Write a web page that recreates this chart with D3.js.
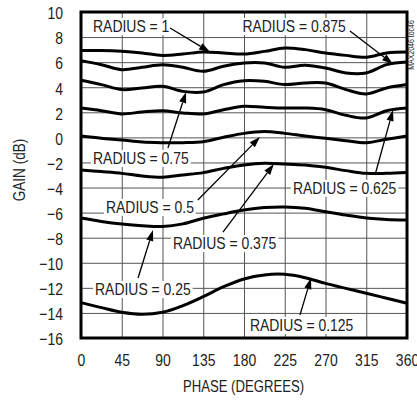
<!DOCTYPE html>
<html><head><meta charset="utf-8">
<script src="https://cdn.jsdelivr.net/npm/d3@7"></script>
<style>
html,body{margin:0;padding:0;background:#fff;}
svg{display:block;}
text{font-family:"Liberation Sans",Arial,sans-serif;fill:#222;}
</style></head>
<body>
<script>
// ---- data ----
const phases = [0,22.5,45,67.5,90,112.5,135,157.5,180,202.5,225,247.5,270,292.5,315,337.5,360];
const radius1     = [6.92,6.92,6.86,6.73,6.54,6.65,6.81,6.73,6.65,6.86,7.13,7.00,6.73,6.54,6.39,6.73,6.81];
const radius0875  = [6.12,5.80,5.40,5.59,5.80,5.59,5.27,5.67,5.93,5.93,5.59,5.75,5.53,5.14,5.14,5.80,6.01];
const radius075   = [4.55,4.21,3.81,3.94,4.07,3.67,3.62,4.21,4.52,4.47,4.21,4.34,4.34,3.81,3.46,3.94,4.21];
const radius0625  = [2.34,2.13,1.87,2.03,2.13,1.95,1.87,2.21,2.48,2.40,2.34,2.34,2.21,1.76,1.55,2.13,2.34];
const radius05    = [0.11,-0.07,-0.21,-0.37,-0.42,-0.42,-0.34,0.01,0.32,0.46,0.32,0.11,-0.07,-0.26,-0.42,-0.15,0.11];
const radius0375  = [-2.60,-2.73,-2.87,-3.08,-3.18,-3.00,-2.81,-2.47,-2.20,-2.07,-2.12,-2.20,-2.39,-2.65,-2.87,-2.87,-2.81];
const radius025   = [-6.43,-6.70,-6.91,-7.05,-7.11,-6.90,-6.45,-6.10,-5.79,-5.60,-5.55,-5.65,-5.93,-6.20,-6.43,-6.55,-6.59];
const radius0125  = [-13.18,-13.58,-13.95,-14.11,-13.95,-13.42,-12.70,-11.91,-11.29,-10.97,-10.92,-11.19,-11.64,-12.04,-12.43,-12.83,-13.23];
const seriesList = [radius1,radius0875,radius075,radius0625,radius05,radius0375,radius025,radius0125];

const xTicks = [0,45,90,135,180,225,270,315,360];
const yTicks = [-16,-14,-12,-10,-8,-6,-4,-2,0,2,4,6,8,10];
const xTitle = "PHASE (DEGREES)";
const yTitle = "GAIN (dB)";
const tocLabel = "MAX2046 toc46";

const labelTexts = ["RADIUS = 1","RADIUS = 0.875","RADIUS = 0.75","RADIUS = 0.5","RADIUS = 0.625","RADIUS = 0.375","RADIUS = 0.25","RADIUS = 0.125"];
// annotation layout, in data coordinates [phase, gain]
const labelAnchor = [[13.3,8.40],[292.5,8.40],[13.3,-2.12],[27.6,-6.03],[234,-4.50],[101.5,-8.90],[15.5,-12.57],[186.5,-15.44]];
const labelAlign  = ["start","end","start","start","start","start","start","start"];
const arrowFrom   = [[98.3,8.72],[297,8.48],[96,-0.85],[129,-4.99],[324.7,-3.0],[156.8,-7.55],[63,-11.22],[241.8,-14.17]];
const arrowTo     = [[142.5,6.81],[344.5,5.85],[116,3.62],[197.7,0.03],[344.5,2.18],[213,-2.12],[79.5,-7.39],[254,-11.22]];

// ---- drawing ----
const W = 417, H = 401;
const L = 81, R = 407, T = 12, B = 338;
const NARROW = 0.82;
function narrow(sel){
  sel.each(function(){
    const n = this; const len = n.getComputedTextLength();
    if (len>0){ n.setAttribute("textLength", (len*NARROW).toFixed(2)); n.setAttribute("lengthAdjust","spacingAndGlyphs"); }
  });
  return sel;
}
const svg = d3.select("body").append("svg").attr("width",W).attr("height",H);
const x = d3.scaleLinear().domain([0,360]).range([L,R]);
const y = d3.scaleLinear().domain([-16,10]).range([B,T]);

// grid
svg.append("g").attr("transform",`translate(0,${B})`)
  .call(d3.axisBottom(x).tickValues(xTicks).tickSize(-(B-T)).tickFormat(""))
  .call(g=>g.select(".domain").remove())
  .call(g=>g.selectAll("line").attr("stroke","#555").attr("stroke-width",1));
svg.append("g").attr("transform",`translate(${L},0)`)
  .call(d3.axisLeft(y).tickValues(yTicks).tickSize(-(R-L)).tickFormat(""))
  .call(g=>g.select(".domain").remove())
  .call(g=>g.selectAll("line").attr("stroke","#555").attr("stroke-width",1));

// tick labels
svg.append("g").attr("transform",`translate(0,${B})`)
  .call(d3.axisBottom(x).tickValues(xTicks).tickSize(0).tickPadding(16).tickFormat(d3.format("d")))
  .call(g=>g.select(".domain").remove())
  .call(g=>narrow(g.selectAll("text").attr("font-size",17).attr("fill","#222")
    .style("font-family",'"Liberation Sans",Arial,sans-serif')));
svg.append("g").attr("transform",`translate(${L},0)`)
  .call(d3.axisLeft(y).tickValues(yTicks).tickSize(0).tickPadding(18).tickFormat(d3.format("d")))
  .call(g=>g.select(".domain").remove())
  .call(g=>narrow(g.selectAll("text").attr("font-size",17).attr("fill","#222").attr("dy","0.4em")
    .style("font-family",'"Liberation Sans",Arial,sans-serif')));

// curves
const line = d3.line().x((d,i)=>x(phases[i])).y(d=>y(d)).curve(d3.curveCatmullRom.alpha(0.5));
svg.append("g").selectAll("path").data(seriesList).join("path")
  .attr("d",line).attr("fill","none").attr("stroke","#000").attr("stroke-width",3)
  .attr("stroke-linejoin","round");

// labels with white background
const lg = svg.append("g");
labelTexts.forEach((t,i)=>{
  const g = lg.append("g");
  const tx = g.append("text").attr("x",x(labelAnchor[i][0])).attr("y",y(labelAnchor[i][1]))
    .attr("text-anchor",labelAlign[i]).attr("font-size",17).text(t);
  narrow(tx);
  const bb = tx.node().getBBox();
  g.insert("rect","text").attr("x",bb.x-2).attr("y",bb.y+1).attr("width",bb.width+4).attr("height",bb.height-2).attr("fill","#fff");
});

// arrows
const ag = svg.append("g");
arrowFrom.forEach((f,i)=>{
  const x1=x(f[0]), y1=y(f[1]), x2=x(arrowTo[i][0]), y2=y(arrowTo[i][1]);
  const dx=x2-x1, dy=y2-y1, len=Math.hypot(dx,dy), ux=dx/len, uy=dy/len;
  const hl=11, hw=3.6;
  const bx=x2-ux*hl, by=y2-uy*hl;
  ag.append("line").attr("x1",x1).attr("y1",y1).attr("x2",bx).attr("y2",by)
    .attr("stroke","#000").attr("stroke-width",1.3);
  ag.append("path").attr("d",`M${x2},${y2}L${bx-uy*hw},${by+ux*hw}L${bx+uy*hw},${by-ux*hw}Z`).attr("fill","#000");
});

// frame
svg.append("rect").attr("x",L).attr("y",T).attr("width",R-L).attr("height",B-T)
  .attr("fill","none").attr("stroke","#000").attr("stroke-width",3);

// titles
narrow(svg.append("text").attr("x",243.5).attr("y",392).attr("text-anchor","middle").attr("font-size",16).text(xTitle));
narrow(svg.append("text").attr("transform","translate(25,170) rotate(-90)").attr("text-anchor","middle").attr("font-size",16.5).text(yTitle));
narrow(svg.append("text").attr("transform","translate(414,45) rotate(-90)").attr("text-anchor","middle").attr("font-size",8.5).text(tocLabel));
</script>
</body></html>
